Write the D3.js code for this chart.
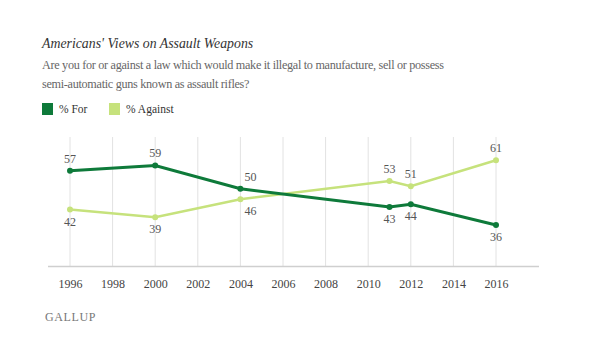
<!DOCTYPE html>
<html>
<head>
<meta charset="utf-8">
<script src="https://cdn.jsdelivr.net/npm/d3@7"></script>
<style>
  body { margin: 0; background: #fff; }
  svg { display: block; }
</style>
</head>
<body>
<div id="chart"></div>
<script>
// data
const years = [1996, 2000, 2004, 2011, 2012, 2016];
const pctFor = [57, 59, 50, 43, 44, 36];
const pctAgainst = [42, 39, 46, 53, 51, 61];
const tickYears = [1996, 1998, 2000, 2002, 2004, 2006, 2008, 2010, 2012, 2014, 2016];
const seriesNames = ['% For', '% Against'];

const W = 600, H = 349;
const darkGreen = '#0e7a3a', lightGreen = '#c6e27c';
const serif = '"Liberation Serif", "DejaVu Serif", serif';

const svg = d3.select('#chart').append('svg')
    .attr('width', W)
    .attr('height', H)
    .style('font-family', serif);

// title + question
svg.append('text')
    .attr('x', 42).attr('y', 48)
    .style('font-style', 'italic')
    .style('font-size', '13.8px')
    .style('fill', '#333')
    .text("Americans' Views on Assault Weapons");

const question = [
  'Are you for or against a law which would make it illegal to manufacture, sell or possess',
  'semi-automatic guns known as assault rifles?'
];
svg.selectAll('text.question')
    .data(question)
    .enter().append('text')
    .attr('class', 'question')
    .attr('x', 42)
    .attr('y', (d, i) => 69 + i * 19)
    .style('font-size', '12.2px')
    .style('letter-spacing', '-0.3px')
    .style('fill', '#666')
    .text(d => d);

// legend
const legendX = [42, 109];
const legend = svg.selectAll('g.legend')
    .data(seriesNames)
    .enter().append('g')
    .attr('class', 'legend')
    .attr('transform', (d, i) => `translate(${legendX[i]},103)`);
legend.append('rect')
    .attr('width', 11).attr('height', 12)
    .style('fill', (d, i) => i === 0 ? darkGreen : lightGreen);
legend.append('text')
    .attr('x', 17).attr('y', 10)
    .style('font-size', '11.5px')
    .style('fill', '#333')
    .text(d => d);

// scales
const x = d3.scaleLinear().domain([1996, 2016]).range([70, 496]);
const y = d3.scaleLinear().domain([20, 70]).range([266.5, 137]);

// gridlines
svg.append('g')
  .selectAll('line')
  .data(tickYears)
  .enter().append('line')
    .attr('x1', d => x(d)).attr('x2', d => x(d))
    .attr('y1', y(70)).attr('y2', y(20))
    .style('stroke', '#e2e2e2')
    .style('stroke-width', 1);

// x axis
const xAxis = svg.append('g')
    .attr('transform', `translate(0,${y(20)})`)
    .call(d3.axisBottom(x).tickValues(tickYears).tickFormat(d3.format('d')).tickSize(0).tickPadding(13));
xAxis.select('.domain').remove();
xAxis.append('line')
    .attr('x1', 48).attr('x2', 539)
    .style('stroke', '#cfcfcf')
    .style('stroke-width', 1.5);
xAxis.selectAll('text')
    .style('font-family', serif)
    .style('font-size', '12px')
    .style('fill', '#444');

// lines
const series = [
  { name: seriesNames[0], values: pctFor, color: darkGreen, width: 3, other: pctAgainst },
  { name: seriesNames[1], values: pctAgainst, color: lightGreen, width: 2.5, other: pctFor }
];

const line = d3.line()
    .x((d, i) => x(years[i]))
    .y(d => y(d));

// draw light line first so the dark one sits on top
series.slice().reverse().forEach(s => {
  svg.append('path')
      .datum(s.values)
      .attr('d', line)
      .style('fill', 'none')
      .style('stroke', s.color)
      .style('stroke-width', s.width);
  svg.append('g').selectAll('circle')
      .data(s.values)
      .enter().append('circle')
      .attr('cx', (d, i) => x(years[i]))
      .attr('cy', d => y(d))
      .attr('r', 3)
      .style('fill', s.color);
});

// value labels: above when higher than the other series, below otherwise
series.forEach(s => {
  svg.append('g').selectAll('text')
      .data(s.values)
      .enter().append('text')
      .attr('x', (d, i) => x(years[i]) + (years[i] === 2004 ? 10 : 0))
      .attr('y', (d, i) => d > s.other[i] ? y(d) - 8 : y(d) + 16)
      .attr('text-anchor', 'middle')
      .style('font-size', '12px')
      .style('fill', '#555')
      .text(d => d);
});

// source
svg.append('text')
    .attr('x', 45).attr('y', 321)
    .style('font-size', '12px')
    .style('letter-spacing', '0.6px')
    .style('fill', '#777')
    .text('GALLUP');
</script>
</body>
</html>
